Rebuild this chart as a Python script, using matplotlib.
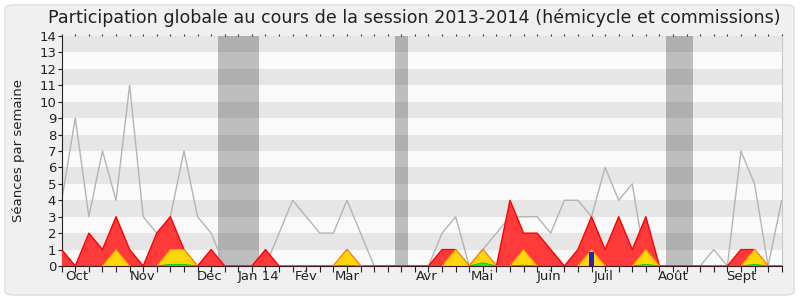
import numpy as np
import matplotlib
matplotlib.use("Agg")
import matplotlib.pyplot as plt
from matplotlib.patches import FancyBboxPatch

# Semaines de la session (index 0 = fin septembre 2013)
semaines = np.arange(54)

# Séances par semaine (lecture du graphique)
total = [4, 9, 3, 7, 4, 11, 3, 2, 3, 7, 3, 2, 0, 0, 0, 0, 2, 4, 3, 2,
         2, 4, 2, 0, 0, 0, 0, 0, 2, 3, 0, 1, 2, 3, 3, 3, 2, 4, 4, 3,
         6, 4, 5, 0, 0, 0, 0, 0, 1, 0, 7, 5, 0, 4]
presences = [1, 0, 2, 1, 3, 1, 0, 2, 3, 1, 0, 1, 0, 0, 0, 1, 0, 0, 0, 0,
             0, 1, 0, 0, 0, 0, 0, 0, 1, 1, 0, 1, 0, 4, 2, 2, 1, 0, 1, 3,
             1, 3, 1, 3, 0, 0, 0, 0, 0, 0, 1, 1, 0, 0]
hemicycle = [0, 0, 0, 0, 1, 0, 0, 0, 1, 1, 0, 0, 0, 0, 0, 0, 0, 0, 0, 0,
             0, 1, 0, 0, 0, 0, 0, 0, 0, 1, 0, 1, 0, 0, 1, 0, 0, 0, 0, 1,
             0, 0, 0, 1, 0, 0, 0, 0, 0, 0, 0, 1, 0, 0]
interventions = [0, 0, 0, 0, 0, 0, 0, 0, 0.1, 0.1, 0, 0, 0, 0, 0, 0, 0, 0, 0, 0,
                 0, 0.05, 0, 0, 0, 0, 0, 0, 0, 0, 0, 0.2, 0, 0, 0.05, 0, 0, 0, 0, 0,
                 0, 0, 0, 0.1, 0, 0, 0, 0, 0, 0, 0, 0.1, 0, 0]
question_semaine = 39
question_valeur = 0.85

# Vacances parlementaires
vacances = [(11.5, 14.5), (24.5, 25.5), (44.5, 46.5)]

mois = ["Oct", "Nov", "Déc", "Jan 14", "Fév", "Mar", "Avr", "Mai", "Juin", "Juil", "Août", "Sept"]
mois_pos = [1.1, 5.95, 10.9, 14.5, 18, 21.05, 26.9, 31, 35.9, 39.9, 45, 50]


def contour(valeurs):
    # on masque les segments nuls pour ne pas repasser sur la ligne de base
    v = np.array(valeurs, dtype=float)
    garde = v > 0
    garde[1:] |= v[:-1] > 0
    garde[:-1] |= v[1:] > 0
    return np.ma.masked_where(~garde, v)


fig = plt.figure(figsize=(8, 3), dpi=100, facecolor="white")
cadre = FancyBboxPatch((5 / 800, 5 / 300), 789 / 800, 290 / 300,
                       boxstyle="round,pad=0,rounding_size=0.012",
                       transform=fig.transFigure, facecolor="#f0f0f0",
                       edgecolor="#dcdcdc", lw=1, zorder=-10)
fig.patches.append(cadre)

ax = fig.add_axes([61.7 / 800, 34 / 300, 720 / 800, 230 / 300])
ax.set_xlim(0, 53)
ax.set_ylim(0, 14)

# bandes horizontales
for k in range(14):
    ax.axhspan(k, k + 1, color="#e6e6e6" if k % 2 == 1 else "#fafafa", lw=0, zorder=0)

for debut, fin in vacances:
    ax.axvspan(debut, fin, color="black", alpha=0.24, lw=0, zorder=1)

ax.plot(semaines, total, color="#b4b4b4", lw=1, zorder=2)
ax.fill_between(semaines, presences, facecolor="#ff3a3a", lw=0, zorder=3)
ax.plot(semaines, presences, color="#ff0000", lw=1, zorder=3.5)
ax.fill_between(semaines, hemicycle, facecolor="#ffd60a", lw=0, zorder=4)
ax.plot(semaines, contour(hemicycle), color="#ff9a00", lw=0.8, zorder=4.5)
ax.fill_between(semaines, interventions, facecolor="#22ee22", lw=0, zorder=5)
ax.plot(semaines, contour(interventions), color="#00cc00", lw=0.6, zorder=5.5)
ax.bar([question_semaine], [question_valeur], width=0.3, color="#2222cc", zorder=6)

ax.spines["top"].set_visible(False)
ax.spines["right"].set_color("#c8c8c8")
ax.spines["left"].set_color("#222222")
ax.spines["bottom"].set_color("#3a1a1a")
ax.spines["bottom"].set_zorder(7)

ax.set_yticks(range(15))
ax.tick_params(axis="y", direction="out", length=3, labelsize=9.5, pad=1, colors="#222222")
ax.xaxis.remove_overlapping_locs = False
ax.set_xticks(semaines)
ax.set_xticklabels([])
ax.tick_params(axis="x", which="major", direction="out", length=4, color="#222222")
ax.set_xticks(mois_pos, minor=True)
ax.set_xticklabels(mois, minor=True)
ax.tick_params(axis="x", which="minor", length=0, labelsize=9.5, pad=3, labelcolor="#222222")

haut = ax.secondary_xaxis("top")
haut.set_xticks(semaines)
haut.set_xticklabels([])
haut.tick_params(length=1.5, color="#333333")
haut.spines["top"].set_visible(False)

ax.set_ylabel("Séances par semaine", fontsize=9.5, color="#222222", labelpad=10)

fig.text(414 / 800, 0.94, "Participation globale au cours de la session 2013-2014 (hémicycle et commissions)",
         ha="center", va="center", fontsize=12.6, color="#222222")

fig.savefig("out.png", dpi=100, facecolor=fig.get_facecolor())
